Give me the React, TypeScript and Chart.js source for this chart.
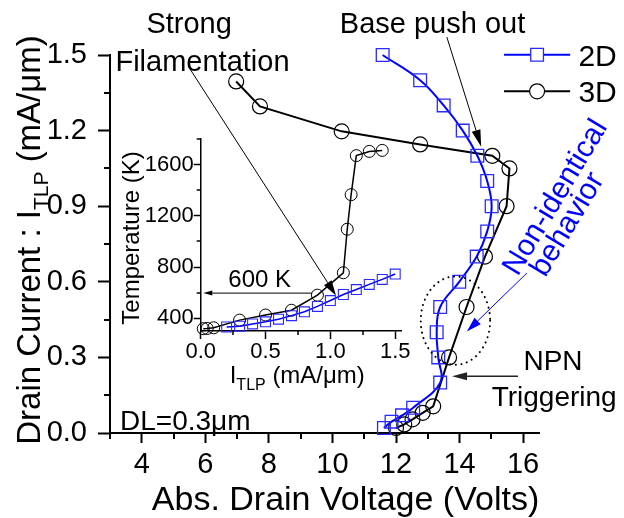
import React, { useEffect, useRef } from 'react';
import { Chart, registerables } from 'chart.js';
Chart.register(...registerables);

const FONT = "'Liberation Sans', Arial, Helvetica, sans-serif";
const NARROW = "'Liberation Sans Narrow', 'Arial Narrow', 'Liberation Sans', Arial, sans-serif";

// ---------- main chart data ----------
const seriesNames = ['2D', '3D'];
const voltage2D = [11.62, 11.86, 12.19, 12.54, 13.39, 13.33, 13.28, 13.39, 13.99, 14.54, 14.87, 15.01, 14.87, 14.56, 14.1, 13.5, 12.76, 11.58];
const current2D = [0.02, 0.045, 0.07, 0.1, 0.2, 0.3, 0.4, 0.5, 0.6, 0.7, 0.8, 0.9, 1.0, 1.1, 1.2, 1.3, 1.4, 1.5];
const voltage3D = [12.0, 12.26, 12.52, 12.84, 13.17, 13.67, 14.22, 14.8, 15.48, 15.57, 15.03, 12.76, 10.29, 7.72, 6.97];
const current3D = [0.02, 0.034, 0.054, 0.08, 0.106, 0.3, 0.5, 0.7, 0.9, 1.05, 1.1, 1.145, 1.197, 1.296, 1.395];
const xTickValues = [4, 6, 8, 10, 12, 14, 16];
const xMinorValues = [3, 5, 7, 9, 11, 13, 15];
const yTickValues = [0, 0.3, 0.6, 0.9, 1.2, 1.5];
const yMinorValues = [0.15, 0.45, 0.75, 1.05, 1.35];

// ---------- inset data ----------
const insetI2D = [0.2, 0.3, 0.4, 0.5, 0.6, 0.7, 0.8, 0.9, 1.0, 1.1, 1.2, 1.3, 1.4, 1.5];
const insetT2D = [332, 338, 355, 372, 392, 420, 450, 492, 538, 585, 624, 664, 703, 745];
const insetI3D = [0.02, 0.05, 0.1, 0.3, 0.5, 0.7, 0.9, 1.1, 1.13, 1.16, 1.2, 1.3, 1.4];
const insetT3D = [318, 320, 325, 385, 425, 462, 580, 755, 1095, 1365, 1670, 1703, 1711];
const insetXTicks = [0, 0.5, 1.0, 1.5];
const insetXMinor = [0.25, 0.75, 1.25];
const insetYTicks = [400, 800, 1200, 1600];
const insetYMinor = [600, 1000, 1400, 1800];

// ---------- annotations (data coordinates of the main chart) ----------
const mainTexts = [
  { text: 'Strong', x: 5.49, y: 1.587, size: 29, align: 'center', color: '#000', rot: 0 },
  { text: 'Filamentation', x: 5.91, y: 1.438, size: 29, align: 'center', color: '#000', rot: 0 },
  { text: 'Base push out', x: 13.15, y: 1.587, size: 29, align: 'center', color: '#000', rot: 0 },
  { text: 'Non-identical', x: 17.25, y: 0.917, size: 30, align: 'center', color: '#0000ff', rot: -59 },
  { text: 'behavior', x: 17.63, y: 0.81, size: 30, align: 'center', color: '#0000ff', rot: -59 },
  { text: 'NPN', x: 16.01, y: 0.251, size: 28, align: 'left', color: '#000', rot: 0 },
  { text: 'Triggering', x: 15.01, y: 0.108, size: 28, align: 'left', color: '#000', rot: 0 },
  { text: 'DL=0.3\u03bcm', x: 3.315, y: 0.013, size: 28, align: 'left', color: '#000', rot: 0 },
];
const mainArrows = [
  { from: [5.52, 1.444], to: [10.11, 0.546], color: '#000', lw: 1, head: 15, headW: 9 },
  { from: [13.6, 1.571], to: [14.68, 1.136], color: '#000', lw: 1, head: 17, headW: 9 },
  { from: [16.12, 0.635], to: [14.23, 0.403], color: '#0000ff', lw: 1, head: 15, headW: 9 },
  { from: [15.84, 0.225], to: [13.765, 0.225], color: '#222', lw: 1.5, head: 15, headW: 8 },
];
const dottedEllipse = { cx: 13.87, cy: 0.446, rx: 1.092, ry: 0.1754 };
const legendRows = [1.501, 1.356];
const legendX = { from: 15.4, mark: 16.44, to: 17.48, text: 17.74 };

const insetTexts = [{ text: '600 K', x: 0.213, y: 647, size: 24 }];
const insetArrows = [{ from: [0.857, 596], to: [0.02, 596], color: '#000', lw: 1, head: 9, headW: 5 }];

function arrow(ctx: CanvasRenderingContext2D, x1: number, y1: number, x2: number, y2: number, color: string, lw: number, hl: number, hw: number) {
  ctx.save();
  ctx.strokeStyle = color;
  ctx.fillStyle = color;
  ctx.lineWidth = lw;
  const a = Math.atan2(y2 - y1, x2 - x1);
  const bx = x2 - hl * Math.cos(a);
  const by = y2 - hl * Math.sin(a);
  ctx.beginPath();
  ctx.moveTo(x1, y1);
  ctx.lineTo(bx, by);
  ctx.stroke();
  ctx.beginPath();
  ctx.moveTo(x2, y2);
  ctx.lineTo(bx + (hw / 2) * Math.sin(a), by - (hw / 2) * Math.cos(a));
  ctx.lineTo(bx - (hw / 2) * Math.sin(a), by + (hw / 2) * Math.cos(a));
  ctx.closePath();
  ctx.fill();
  ctx.restore();
}

type Part = { t: string; size: number; dy: number };
function drawRich(ctx: CanvasRenderingContext2D, parts: Part[], x: number, y: number, rot: number, align: string, color: string) {
  ctx.save();
  ctx.translate(x, y);
  ctx.rotate(rot);
  ctx.fillStyle = color;
  ctx.textBaseline = 'alphabetic';
  ctx.textAlign = 'left';
  const widths = parts.map((p) => {
    ctx.font = `${p.size}px ${FONT}`;
    return ctx.measureText(p.t).width;
  });
  const total = widths.reduce((s, w) => s + w, 0);
  let cx = align === 'center' ? -total / 2 : 0;
  parts.forEach((p, i) => {
    ctx.font = `${p.size}px ${FONT}`;
    ctx.fillText(p.t, cx, p.dy);
    cx += widths[i];
  });
  ctx.restore();
}

function drawMinor(chart: any, xs: number[], ys: number[], len: number, lw: number) {
  const ctx = chart.ctx;
  const a = chart.chartArea;
  const sx = chart.scales.x;
  const sy = chart.scales.y;
  ctx.save();
  ctx.strokeStyle = '#000';
  ctx.lineWidth = lw;
  ctx.beginPath();
  xs.forEach((v) => {
    const p = Math.round(sx.getPixelForValue(v));
    ctx.moveTo(p, a.bottom);
    ctx.lineTo(p, a.bottom + len);
  });
  ys.forEach((v) => {
    const p = Math.round(sy.getPixelForValue(v));
    ctx.moveTo(a.left, p);
    ctx.lineTo(a.left - len, p);
  });
  ctx.stroke();
  ctx.restore();
}

const mainPlugin = {
  id: 'mainDecor',
  afterDraw(chart: any) {
    const ctx: CanvasRenderingContext2D = chart.ctx;
    const a = chart.chartArea;
    const sx = chart.scales.x;
    const sy = chart.scales.y;
    const px = (v: number) => sx.getPixelForValue(v);
    const py = (v: number) => sy.getPixelForValue(v);
    drawMinor(chart, xMinorValues, yMinorValues, 6, 2);

    // axis titles
    drawRich(ctx, [{ t: 'Abs. Drain Voltage (Volts)', size: 34, dy: 0 }], (a.left + a.right) / 2 + 21, a.bottom + 77, 0, 'center', '#000');
    drawRich(
      ctx,
      [
        { t: 'Drain Current : I', size: 33, dy: 0 },
        { t: 'TLP', size: 21, dy: 8 },
        { t: ' (mA/\u03bcm)', size: 33, dy: 0 },
      ],
      a.left - 70,
      (a.top + a.bottom) / 2 - 4,
      -Math.PI / 2,
      'center',
      '#000'
    );

    // legend
    chart.data.datasets.forEach((ds: any, i: number) => {
      const y = py(legendRows[i]);
      ctx.save();
      ctx.strokeStyle = ds.borderColor;
      ctx.lineWidth = 2;
      ctx.beginPath();
      ctx.moveTo(px(legendX.from), y);
      ctx.lineTo(px(legendX.to), y);
      ctx.stroke();
      const mx = px(legendX.mark);
      ctx.strokeStyle = ds.pointBorderColor;
      ctx.lineWidth = ds.pointBorderWidth;
      ctx.fillStyle = '#fff';
      ctx.beginPath();
      if (ds.pointStyle === 'rect') {
        const h = ds.pointRadius * Math.SQRT1_2;
        ctx.rect(mx - h, y - h, 2 * h, 2 * h);
      } else {
        ctx.arc(mx, y, ds.pointRadius, 0, Math.PI * 2);
      }
      ctx.fill();
      ctx.stroke();
      ctx.fillStyle = '#000';
      ctx.font = `30px ${NARROW}`;
      ctx.textAlign = 'left';
      ctx.textBaseline = 'alphabetic';
      ctx.fillText(ds.label, px(legendX.text), y + 11);
      ctx.restore();
    });

    // texts
    mainTexts.forEach((t) => {
      drawRich(ctx, [{ t: t.text, size: t.size, dy: 0 }], px(t.x), py(t.y), (t.rot * Math.PI) / 180, t.align, t.color);
    });
    // arrows
    mainArrows.forEach((ar) => {
      arrow(ctx, px(ar.from[0]), py(ar.from[1]), px(ar.to[0]), py(ar.to[1]), ar.color, ar.lw, ar.head, ar.headW);
    });
    // dotted ellipse
    ctx.save();
    ctx.strokeStyle = '#000';
    ctx.lineWidth = 2;
    ctx.lineCap = 'round';
    ctx.setLineDash([0.1, 5.5]);
    ctx.beginPath();
    ctx.ellipse(
      px(dottedEllipse.cx),
      py(dottedEllipse.cy),
      px(dottedEllipse.cx + dottedEllipse.rx) - px(dottedEllipse.cx),
      py(dottedEllipse.cy) - py(dottedEllipse.cy + dottedEllipse.ry),
      0,
      0,
      Math.PI * 2
    );
    ctx.stroke();
    ctx.restore();
  },
};

const insetPlugin = {
  id: 'insetDecor',
  afterDraw(chart: any) {
    const ctx: CanvasRenderingContext2D = chart.ctx;
    const a = chart.chartArea;
    const sx = chart.scales.x;
    const sy = chart.scales.y;
    const px = (v: number) => sx.getPixelForValue(v);
    const py = (v: number) => sy.getPixelForValue(v);
    drawMinor(chart, insetXMinor, insetYMinor, 4, 1.5);
    drawRich(ctx, [{ t: 'Temperature (K)', size: 24, dy: 0 }], a.left - 62, (a.top + a.bottom) / 2 + 3, -Math.PI / 2, 'center', '#000');
    drawRich(
      ctx,
      [
        { t: 'I', size: 24, dy: 0 },
        { t: 'TLP', size: 16, dy: 7 },
        { t: ' (mA/\u03bcm)', size: 24, dy: 0 },
      ],
      a.left + 29,
      a.bottom + 52,
      0,
      'left',
      '#000'
    );
    insetTexts.forEach((t) => {
      drawRich(ctx, [{ t: t.text, size: t.size, dy: 0 }], px(t.x), py(t.y), 0, 'left', '#000');
    });
    insetArrows.forEach((ar) => {
      arrow(ctx, px(ar.from[0]), py(ar.from[1]), px(ar.to[0]), py(ar.to[1]), ar.color, ar.lw, ar.head, ar.headW);
    });
  },
};

function toPoints(xs: number[], ys: number[]) {
  return xs.map((x, i) => ({ x, y: ys[i] }));
}

function mainConfig(): any {
  return {
    type: 'line',
    data: {
      datasets: [
        {
          label: seriesNames[0],
          data: toPoints(voltage2D, current2D),
          borderColor: '#0000ff',
          borderWidth: 2,
          pointStyle: 'rect',
          pointRadius: 9,
          pointBorderColor: '#2a2aff',
          pointBorderWidth: 1.3,
          pointBackgroundColor: 'rgba(0,0,0,0)',
          tension: 0.4,
          clip: false,
        },
        {
          label: seriesNames[1],
          data: toPoints(voltage3D, current3D),
          borderColor: '#000',
          borderWidth: 2,
          pointStyle: 'circle',
          pointRadius: 7.5,
          pointBorderColor: '#000',
          pointBorderWidth: 1.2,
          pointBackgroundColor: 'rgba(0,0,0,0)',
          tension: 0,
          clip: false,
        },
      ],
    },
    options: {
      responsive: false,
      animation: false,
      events: [],
      layout: { padding: { top: 55, right: 85, bottom: 0, left: 0 } },
      plugins: { legend: { display: false }, tooltip: { enabled: false } },
      scales: {
        x: {
          type: 'linear',
          min: 3,
          max: 16.5,
          afterBuildTicks: (s: any) => {
            s.ticks = xTickValues.map((v) => ({ value: v }));
          },
          afterFit: (s: any) => {
            s.height = 85;
          },
          grid: { display: true, drawOnChartArea: false, drawTicks: true, tickLength: 10, tickWidth: 2, tickColor: '#000' },
          border: { display: true, color: '#000', width: 2 },
          ticks: { color: '#000', font: { family: NARROW, size: 29 }, padding: 5, maxRotation: 0, autoSkip: false, callback: (v: any) => String(v) },
        },
        y: {
          type: 'linear',
          min: 0,
          max: 1.5,
          afterBuildTicks: (s: any) => {
            s.ticks = yTickValues.map((v) => ({ value: v }));
          },
          afterFit: (s: any) => {
            s.width = 110;
          },
          grid: { display: true, drawOnChartArea: false, drawTicks: true, tickLength: 12, tickWidth: 2, tickColor: '#000' },
          border: { display: true, color: '#000', width: 2 },
          ticks: { color: '#000', font: { family: NARROW, size: 29 }, padding: 11, autoSkip: false, callback: (v: any) => Number(v).toFixed(1) },
        },
      },
    },
    plugins: [mainPlugin],
  };
}

function insetConfig(): any {
  return {
    type: 'line',
    data: {
      datasets: [
        {
          label: seriesNames[0],
          data: toPoints(insetI2D, insetT2D),
          borderColor: '#0000ff',
          borderWidth: 1.5,
          pointStyle: 'rect',
          pointRadius: 7,
          pointBorderColor: '#2a2aff',
          pointBorderWidth: 1.1,
          pointBackgroundColor: 'rgba(0,0,0,0)',
          tension: 0,
          clip: false,
        },
        {
          label: seriesNames[1],
          data: toPoints(insetI3D, insetT3D),
          borderColor: '#000',
          borderWidth: 1.5,
          pointStyle: 'circle',
          pointRadius: 6,
          pointBorderColor: '#000',
          pointBorderWidth: 1,
          pointBackgroundColor: 'rgba(0,0,0,0)',
          tension: 0,
          clip: false,
        },
      ],
    },
    options: {
      responsive: false,
      animation: false,
      events: [],
      layout: { padding: { top: 139, right: 222.3, bottom: 127, left: 0 } },
      plugins: { legend: { display: false }, tooltip: { enabled: false } },
      scales: {
        x: {
          type: 'linear',
          min: 0,
          max: 1.55,
          afterBuildTicks: (s: any) => {
            s.ticks = insetXTicks.map((v) => ({ value: v }));
          },
          afterFit: (s: any) => {
            s.height = 60;
          },
          grid: { display: true, drawOnChartArea: false, drawTicks: true, tickLength: 8, tickWidth: 1.5, tickColor: '#000' },
          border: { display: true, color: '#000', width: 1.5 },
          ticks: { color: '#000', font: { family: FONT, size: 22 }, padding: 0, maxRotation: 0, autoSkip: false, callback: (v: any) => Number(v).toFixed(1) },
        },
        y: {
          type: 'linear',
          min: 300,
          max: 1800,
          afterBuildTicks: (s: any) => {
            s.ticks = insetYTicks.map((v) => ({ value: v }));
          },
          afterFit: (s: any) => {
            s.width = 200.7;
          },
          grid: { display: true, drawOnChartArea: false, drawTicks: true, tickLength: 7, tickWidth: 1.5, tickColor: '#000' },
          border: { display: true, color: '#000', width: 1.5 },
          ticks: { color: '#000', font: { family: FONT, size: 22 }, padding: 0, autoSkip: false, callback: (v: any) => String(v) },
        },
      },
    },
    plugins: [insetPlugin],
  };
}

export default function App() {
  const mainRef = useRef<HTMLCanvasElement>(null);
  const insetRef = useRef<HTMLCanvasElement>(null);
  useEffect(() => {
    const main = new Chart(mainRef.current as HTMLCanvasElement, mainConfig());
    const inset = new Chart(insetRef.current as HTMLCanvasElement, insetConfig());
    return () => {
      main.destroy();
      inset.destroy();
    };
  }, []);
  const cs: React.CSSProperties = { position: 'absolute', left: 0, top: 0, width: 624, height: 518 };
  return (
    <div style={{ position: 'absolute', left: 0, top: 0, width: 624, height: 518, background: '#fff' }}>
      <canvas ref={mainRef} width={624} height={518} style={cs} />
      <canvas ref={insetRef} width={624} height={518} style={cs} />
    </div>
  );
}
